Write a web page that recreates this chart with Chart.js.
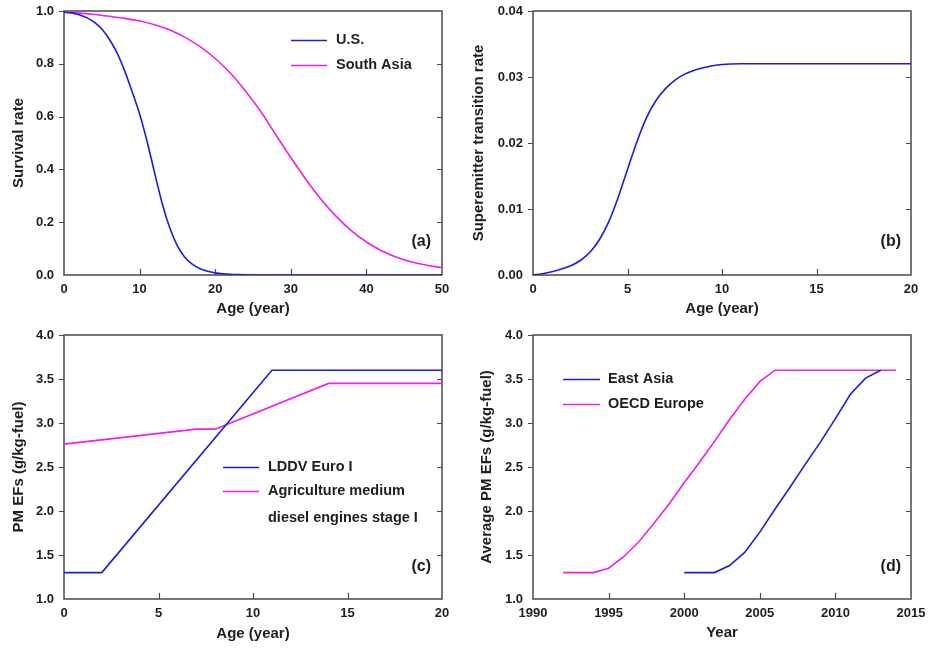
<!DOCTYPE html>
<html>
<head>
<meta charset="utf-8">
<script src="https://cdn.jsdelivr.net/npm/chart.js@4/dist/chart.umd.min.js"></script>
<style>
  html, body { margin: 0; padding: 0; background: #ffffff; }
  body { width: 928px; height: 648px; position: relative; overflow: hidden; }
  canvas { position: absolute; }
</style>
</head>
<body>
<canvas id="ca" width="464" height="324" style="left:0;top:0"></canvas>
<canvas id="cb" width="464" height="324" style="left:464px;top:0"></canvas>
<canvas id="cc" width="464" height="324" style="left:0;top:324px"></canvas>
<canvas id="cd" width="464" height="324" style="left:464px;top:324px"></canvas>
<script>
// ---------- Panel (a): survival rate ----------
const usAge = [0,1,2,3,4,5,6,7,8,9,10,11,12,13,14,15,16,17,18,19,20,21,22,23,24,25,26,30,35,40,45,50];
const usSurvival = [0.995,0.993,0.986,0.975,0.958,0.932,0.893,0.842,0.775,0.695,0.61,0.505,0.385,0.27,0.178,0.11,0.066,0.04,0.024,0.014,0.008,0.0045,0.0025,0.0013,0.0006,0.0002,0,0,0,0,0,0];
const southAsiaAge = [0,2,4,6,8,10,12,14,16,18,20,22,24,26,28,30,32,34,36,38,40,42,44,46,48,50];
const southAsiaSurvival = [0.995,0.992,0.987,0.98,0.972,0.962,0.948,0.928,0.9,0.865,0.82,0.765,0.697,0.62,0.532,0.445,0.362,0.287,0.222,0.168,0.125,0.092,0.067,0.049,0.037,0.028];
const ageTicksA = [0,10,20,30,40,50];
const survivalTicks = [0,0.2,0.4,0.6,0.8,1.0];

// ---------- Panel (b): superemitter transition rate ----------
const superAge = [0,0.5,1,1.5,2,2.5,3,3.5,4,4.5,5,5.5,6,6.5,7,7.5,8,8.5,9,9.5,10,11,12,14,16,18,20];
const superRate = [0,0.0002,0.0005,0.0009,0.0014,0.0022,0.0034,0.0053,0.008,0.0117,0.016,0.0202,0.0238,0.0264,0.0282,0.0295,0.0304,0.031,0.0314,0.0317,0.0319,0.032,0.032,0.032,0.032,0.032,0.032];
const ageTicksB = [0,5,10,15,20];
const rateTicks = [0,0.01,0.02,0.03,0.04];

// ---------- Panel (c): PM EFs by age ----------
const lddvAge = [0,2,11,20];
const lddvEF = [1.3,1.3,3.6,3.6];
const agriAge = [0,7,8,14,20];
const agriEF = [2.76,2.93,2.93,3.45,3.45];
const ageTicksC = [0,5,10,15,20];
const efTicks = [1.0,1.5,2.0,2.5,3.0,3.5,4.0];

// ---------- Panel (d): average PM EFs by year ----------
const eastAsiaYear = [2000,2001,2002,2003,2004,2005,2006,2007,2008,2009,2010,2011,2012,2013];
const eastAsiaEF = [1.3,1.3,1.3,1.38,1.53,1.76,2.02,2.27,2.53,2.78,3.05,3.33,3.51,3.6];
const oecdYear = [1992,1993,1994,1995,1996,1997,1998,1999,2000,2001,2002,2003,2004,2005,2006,2007,2008,2009,2010,2011,2012,2013,2014];
const oecdEF = [1.3,1.3,1.3,1.35,1.48,1.65,1.86,2.08,2.32,2.55,2.79,3.04,3.27,3.47,3.6,3.6,3.6,3.6,3.6,3.6,3.6,3.6,3.6];
const yearTicks = [1990,1995,2000,2005,2010,2015];

// ---------- styling ----------
const BLUE = '#1c1cd8';
const MAGENTA = '#f01ee8';
const AXIS = '#4a4a4a';
const TXT = '#1e1e1e';
const FONT = '"Liberation Sans", Arial, Helvetica, sans-serif';
Chart.defaults.font.family = FONT;

function drawFrame(chart) {
  const {ctx, chartArea: a} = chart;
  const xs = chart.scales.x, ys = chart.scales.y;
  ctx.save();
  ctx.strokeStyle = AXIS;
  ctx.lineWidth = 1.5;
  ctx.strokeRect(a.left, a.top, a.right - a.left, a.bottom - a.top);
  ctx.lineWidth = 1.2;
  ctx.beginPath();
  ys.ticks.forEach(t => {
    const p = Math.round(ys.getPixelForValue(t.value)) + 0.5;
    if (t.value > ys.min + 1e-9) { ctx.moveTo(a.left - 5, p); ctx.lineTo(a.left, p); }
    if (t.value > ys.min + 1e-9 && t.value < ys.max - 1e-9) { ctx.moveTo(a.right - 5, p); ctx.lineTo(a.right, p); }
  });
  xs.ticks.forEach(t => {
    if (t.value > xs.min + 1e-9 && t.value < xs.max - 1e-9) {
      const p = Math.round(xs.getPixelForValue(t.value)) + 0.5;
      ctx.moveTo(p, a.bottom); ctx.lineTo(p, a.bottom - 6);
    }
  });
  ctx.stroke();
  ctx.restore();
}

const decor = {
  id: 'decor',
  beforeDatasetsDraw(chart) { drawFrame(chart); },
  afterDatasetsDraw(chart, args, o) {
    const {ctx} = chart;
    ctx.save();
    ctx.fillStyle = TXT;
    ctx.textBaseline = 'middle';
    ctx.textAlign = 'left';
    ctx.font = 'bold 14.5px ' + FONT;
    const L = o.legend;
    if (L) {
      chart.data.datasets.forEach((ds, i) => {
        const y = L.y + i * L.dy;
        ctx.strokeStyle = ds.borderColor;
        ctx.lineWidth = 1.5;
        ctx.beginPath();
        ctx.moveTo(L.x, y + 0.5);
        ctx.lineTo(L.x + L.len, y + 0.5);
        ctx.stroke();
        const lines = Array.isArray(ds.label) ? ds.label : [ds.label];
        lines.forEach((s, k) => ctx.fillText(s, L.tx, y + k * L.lineGap));
      });
    }
    ctx.font = 'bold 16px ' + FONT;
    ctx.textAlign = 'right';
    ctx.fillText(o.tag.text, o.tag.x, o.tag.y);
    ctx.restore();
  }
};

function buildOptions(p) {
  return {
    responsive: false,
    animation: false,
    layout: { autoPadding: false, padding: { left: 0, right: p.padRight, top: 11, bottom: 0 } },
    plugins: {
      legend: { display: false },
      tooltip: { enabled: false },
      decor: { legend: p.legend, tag: p.tag }
    },
    elements: { point: { radius: 0 } },
    scales: {
      x: {
        type: 'linear',
        min: p.xTicks[0], max: p.xTicks[p.xTicks.length - 1],
        afterBuildTicks: s => { s.ticks = p.xTicks.map(v => ({ value: v })); },
        afterFit: s => { s.height = 49; s.paddingLeft = 0; s.paddingRight = 0; },
        grid: { display: false, drawTicks: false },
        border: { display: false },
        ticks: { color: TXT, font: { size: 13, weight: 'bold' }, padding: 7, maxRotation: 0, autoSkip: false,
                 callback: v => String(v) },
        title: { display: true, text: p.xTitle, color: TXT, font: { size: 15, weight: 'bold' },
                 padding: { top: 0, bottom: p.xTitlePad } }
      },
      y: {
        type: 'linear',
        min: p.yTicks[0], max: p.yTicks[p.yTicks.length - 1],
        afterBuildTicks: s => { s.ticks = p.yTicks.map(v => ({ value: v })); },
        afterFit: s => { s.width = p.yWidth; s.paddingTop = 0; s.paddingBottom = 0; },
        grid: { display: false, drawTicks: false },
        border: { display: false },
        ticks: { color: TXT, font: { size: 13, weight: 'bold' }, padding: 10, autoSkip: false,
                 callback: v => Number(v).toFixed(p.yDec) },
        title: { display: true, text: p.yTitle, color: TXT, font: { size: 15, weight: 'bold' },
                 padding: { top: p.yTitlePad, bottom: 0 } }
      }
    }
  };
}

function pts(xs, ys) { return xs.map((x, i) => ({ x: x, y: ys[i] })); }
function series(label, xs, ys, color, smooth) {
  return { label: label, data: pts(xs, ys), borderColor: color, backgroundColor: color,
           borderWidth: 1.6, pointRadius: 0, fill: false,
           cubicInterpolationMode: smooth ? 'monotone' : 'default', tension: 0 };
}

new Chart(document.getElementById('ca'), {
  type: 'line',
  data: { datasets: [
    series('U.S.', usAge, usSurvival, BLUE, true),
    series('South Asia', southAsiaAge, southAsiaSurvival, MAGENTA, true)
  ]},
  options: buildOptions({
    xTicks: ageTicksA, yTicks: survivalTicks, yDec: 1, yWidth: 64, padRight: 22,
    xTitle: 'Age (year)', xTitlePad: 6, yTitle: 'Survival rate', yTitlePad: 10,
    legend: { x: 291, len: 36, tx: 336, y: 40, dy: 25, lineGap: 27 },
    tag: { text: '(a)', x: 431, y: 242 }
  }),
  plugins: [decor]
});

new Chart(document.getElementById('cb'), {
  type: 'line',
  data: { datasets: [
    series('Superemitter transition rate', superAge, superRate, BLUE, true)
  ]},
  options: buildOptions({
    xTicks: ageTicksB, yTicks: rateTicks, yDec: 2, yWidth: 69, padRight: 17,
    xTitle: 'Age (year)', xTitlePad: 6, yTitle: 'Superemitter transition rate', yTitlePad: 6,
    legend: null, tag: { text: '(b)', x: 437, y: 242 }
  }),
  plugins: [decor]
});

new Chart(document.getElementById('cc'), {
  type: 'line',
  data: { datasets: [
    series('LDDV Euro I', lddvAge, lddvEF, BLUE, false),
    series(['Agriculture medium', 'diesel engines stage I'], agriAge, agriEF, MAGENTA, false)
  ]},
  options: buildOptions({
    xTicks: ageTicksC, yTicks: efTicks, yDec: 1, yWidth: 64, padRight: 22,
    xTitle: 'Age (year)', xTitlePad: 5, yTitle: 'PM EFs (g/kg-fuel)', yTitlePad: 10,
    legend: { x: 223, len: 36, tx: 268, y: 143, dy: 24, lineGap: 27 },
    tag: { text: '(c)', x: 431, y: 243 }
  }),
  plugins: [decor]
});

new Chart(document.getElementById('cd'), {
  type: 'line',
  data: { datasets: [
    series('East Asia', eastAsiaYear, eastAsiaEF, BLUE, false),
    series('OECD Europe', oecdYear, oecdEF, MAGENTA, false)
  ]},
  options: buildOptions({
    xTicks: yearTicks, yTicks: efTicks, yDec: 1, yWidth: 69, padRight: 17,
    xTitle: 'Year', xTitlePad: 6, yTitle: 'Average PM EFs (g/kg-fuel)', yTitlePad: 14,
    legend: { x: 99, len: 37, tx: 144, y: 55, dy: 25, lineGap: 27 },
    tag: { text: '(d)', x: 437, y: 243 }
  }),
  plugins: [decor]
});
</script>
</body>
</html>
